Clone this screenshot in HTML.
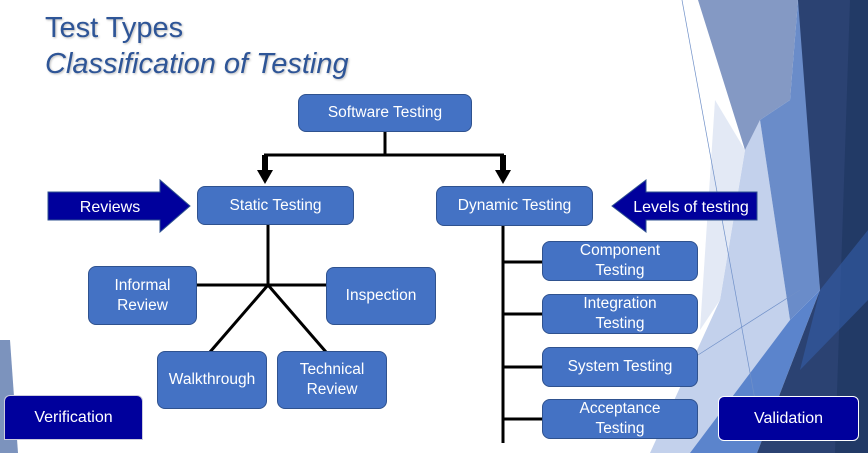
<!DOCTYPE html>
<html><head><meta charset="utf-8"><style>
html,body{margin:0;padding:0;background:#fff;}
#c{position:relative;width:868px;height:453px;overflow:hidden;font-family:"Liberation Sans","DejaVu Sans",sans-serif;}
svg{position:absolute;left:0;top:0;}
.b{position:absolute;background:#4472c4;border:1.5px solid #2f528f;border-radius:8px;color:#fff;font-size:15.5px;display:flex;align-items:center;justify-content:center;text-align:center;line-height:20px;box-sizing:border-box;}
.t{position:absolute;color:#2e5597;left:45px;font-size:29px;text-shadow:1px 1px 2px #bbb;white-space:nowrap;}
.n{position:absolute;background:#00009c;color:#fff;font-size:16px;display:flex;align-items:center;justify-content:center;box-sizing:border-box;}
</style></head><body><div id="c">
<svg width="868" height="453">
 <polygon points="745,150 760,120 790,320 700,453 650,453 720,300" fill="#c3d1ec"/>
 <polygon points="715,100 745,150 720,300 700,330" fill="#e3e9f5"/>
 <polygon points="698,0 798,0 790,100 760,120 745,150" fill="#8499c4"/>
 <polygon points="790,100 798,0 805,0 820,290 790,320 760,120" fill="#6a8cc9"/>
 <polygon points="790,320 820,290 757,453 690,453" fill="#5b84cc"/>
 <polygon points="798,0 868,0 868,453 757,453 820,290" fill="#2b4272"/>
 <polygon points="850,0 868,0 868,453 835,453" fill="#223a66"/>
 <polygon points="820,290 868,230 868,300 800,370" fill="#345ea8" opacity="0.6"/>
 <line x1="682" y1="0" x2="755" y2="400" stroke="#7090c8" stroke-width="0.7"/>
 <line x1="698" y1="355" x2="800" y2="290" stroke="#7090c8" stroke-width="0.7"/>
 <polygon points="0,340 10,340 18,453 0,453" fill="#7c93bd"/>
 <g stroke="#000" stroke-width="3" fill="none">
  <line x1="385" y1="132" x2="385" y2="155"/>
  <line x1="264" y1="155" x2="504" y2="155"/>
  <line x1="268" y1="225" x2="268" y2="285"/>
  <line x1="197" y1="285" x2="326" y2="285"/>
  <line x1="268" y1="285" x2="210" y2="352"/>
  <line x1="268" y1="285" x2="326" y2="352"/>
  <line x1="503" y1="226" x2="503" y2="443"/>
  <line x1="503" y1="262" x2="542" y2="262"/>
  <line x1="503" y1="314" x2="542" y2="314"/>
  <line x1="503" y1="367" x2="542" y2="367"/>
  <line x1="503" y1="419" x2="542" y2="419"/>
 </g>
 <rect x="262" y="155" width="6" height="16" fill="#000"/>
 <polygon points="257,170 273,170 265,184" fill="#000"/>
 <rect x="500" y="155" width="6" height="16" fill="#000"/>
 <polygon points="495,170 511,170 503,184" fill="#000"/>
 <polygon points="48,192 160,192 160,180 190,206 160,232 160,220 48,220" fill="#00009c" stroke="#2f528f"/>
 <polygon points="612,206 646,180 646,192 757,192 757,220 646,220 646,232" fill="#00009c" stroke="#2f528f"/>
 <text x="110" y="212" fill="#fff" font-size="16" text-anchor="middle" font-family="Liberation Sans, sans-serif">Reviews</text>
 <text x="691" y="212" fill="#fff" font-size="16" text-anchor="middle" font-family="Liberation Sans, sans-serif">Levels of testing</text>
</svg>
<div class="t" style="top:12px;">Test Types</div>
<div class="t" style="top:48px;font-style:italic;">Classification of Testing</div>
<div class="b" style="left:298px;top:94px;width:174px;height:38px;">Software Testing</div>
<div class="b" style="left:197px;top:186px;width:157px;height:39px;">Static Testing</div>
<div class="b" style="left:436px;top:186px;width:157px;height:40px;">Dynamic Testing</div>
<div class="b" style="left:88px;top:266px;width:109px;height:59px;">Informal<br>Review</div>
<div class="b" style="left:326px;top:267px;width:110px;height:58px;">Inspection</div>
<div class="b" style="left:157px;top:351px;width:110px;height:58px;">Walkthrough</div>
<div class="b" style="left:277px;top:351px;width:110px;height:58px;">Technical<br>Review</div>
<div class="b" style="left:542px;top:241px;width:156px;height:40px;">Component<br>Testing</div>
<div class="b" style="left:542px;top:294px;width:156px;height:40px;">Integration<br>Testing</div>
<div class="b" style="left:542px;top:347px;width:156px;height:40px;">System Testing</div>
<div class="b" style="left:542px;top:399px;width:156px;height:40px;">Acceptance<br>Testing</div>
<div class="n" style="left:4px;top:395px;width:139px;height:45px;border:1px solid #ccd;border-radius:6px 6px 0 0;">Verification</div>
<div class="n" style="left:718px;top:396px;width:141px;height:45px;border:1.5px solid #fff;border-radius:6px;">Validation</div>
</div></body></html>
